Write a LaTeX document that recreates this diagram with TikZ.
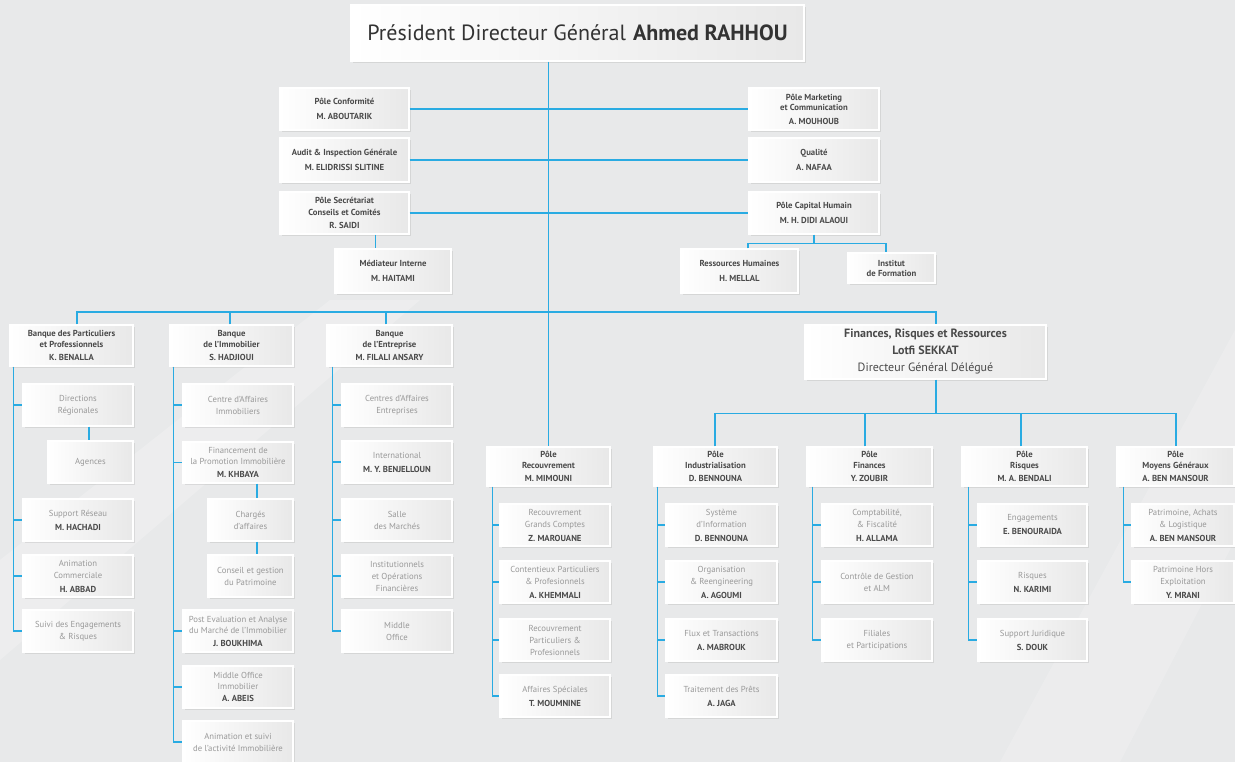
\documentclass[tikz,border=0pt]{standalone}
\usepackage{fontspec}
\setmainfont{PT Sans}
\usetikzlibrary{shadows}
\definecolor{bgc}{HTML}{E8E9EA}
\definecolor{ln}{HTML}{29ABE2}
\definecolor{dk}{HTML}{4A4A4A}
\definecolor{lt}{HTML}{999999}
\definecolor{tt}{HTML}{333333}
\newcommand\nm[1]{{\color{dk}\bfseries #1}}
\begin{document}
\begin{tikzpicture}[x=1pt,y=-1pt,
 box/.style={draw=white, line width=1.2pt, left color=white, right color=black!9,
   drop shadow={shadow xshift=1.5pt, shadow yshift=-1.8pt, opacity=.18}, inner sep=0pt, align=center},
 hd/.style={box, text=dk, font=\bfseries\fontsize{8.7}{11.5}\selectfont, minimum height=42pt},
 pole/.style={box, text=dk, font=\bfseries\fontsize{8.7}{10.5}\selectfont, minimum height=41pt},
 sub/.style={box, text=lt, font=\fontsize{8.7}{12}\selectfont, minimum height=42pt, minimum width=110pt},
 subn/.style={sub, minimum width=85pt},
 conn/.style={draw=ln, line width=1.1pt}]
\useasboundingbox (0,0) rectangle (1235,762);
\fill[bgc] (0,0) rectangle (1235,762);
\fill[white, opacity=.22] (0,560) -- (330,300) -- (420,300) -- (0,660) -- cycle;
\fill[white, opacity=.18] (1235,330) -- (1000,762) -- (1120,762) -- (1235,540) -- cycle;

% top
\node[box, minimum width=453pt, minimum height=56pt, text=tt, font=\fontsize{22}{26}\selectfont] (top) at (577.5,33) {Président Directeur Général\hspace{7pt}\textbf{Ahmed RAHHOU}};

% staff left
\node[hd, minimum width=129pt] (conf) at (344.5,109) {Pôle Conformité\\[3pt]M. ABOUTARIK};
\node[hd, minimum width=129pt, minimum height=44pt] (audit) at (344.5,160) {Audit \& Inspection Générale\\[3pt]M. ELIDRISSI SLITINE};
\node[hd, minimum width=129pt] (secr) at (344.5,213) {Pôle Secrétariat\\Conseils et Comités\\[2pt]R. SAIDI};
\node[hd, minimum width=116pt, minimum height=44pt] (med) at (393,271) {Médiateur Interne\\[3pt]M. HAITAMI};
% staff right
\node[hd, minimum width=130pt, font=\bfseries\fontsize{8.7}{10.5}\selectfont] (mkt) at (814,109) {Pôle Marketing\\et Communication\\[3pt]A. MOUHOUB};
\node[hd, minimum width=130pt, minimum height=44pt] (qual) at (814,160) {Qualité\\[3pt]A. NAFAA};
\node[hd, minimum width=130pt] (caph) at (814,213) {Pôle Capital Humain\\[3pt]M. H. DIDI ALAOUI};
\node[hd, minimum width=117pt, minimum height=44pt] (rh) at (739.5,271) {Ressources Humaines\\[3pt]H. MELLAL};
\node[hd, minimum width=87pt, minimum height=30pt, font=\bfseries\fontsize{8.7}{10}\selectfont] (inst) at (891.5,268) {Institut\\de Formation};

% row 2
\node[pole, minimum width=123pt] (bp) at (71.5,345.5) {Banque des Particuliers\\et Professionnels\\[3pt]K. BENALLA};
\node[pole, minimum width=123pt] (bi) at (231.5,345.5) {Banque\\de l’Immobilier\\[3pt]S. HADJIOUI};
\node[pole, minimum width=125pt] (be) at (389.5,345.5) {Banque\\de l’Entreprise\\[3pt]M. FILALI ANSARY};
\node[box, minimum width=241pt, minimum height=54pt, text=dk, font=\fontsize{12}{17}\selectfont] (frr) at (925.5,352) {\textbf{Finances, Risques et Ressources}\\\textbf{Lotfi SEKKAT}\\Directeur Général Délégué};
\node[pole, minimum width=123pt, minimum height=39pt] (pr) at (548.5,466.5) {Pôle\\Recouvrement\\[3pt]M. MIMOUNI};
\node[pole, minimum width=123pt, minimum height=39pt] (pi) at (715.5,466.5) {Pôle\\Industrialisation\\[3pt]D. BENNOUNA};
\node[pole, minimum width=125pt, minimum height=39pt] (pf) at (869.5,466.5) {Pôle\\Finances\\[3pt]Y. ZOUBIR};
\node[pole, minimum width=125pt, minimum height=39pt] (prk) at (1024.5,466.5) {Pôle\\Risques\\[3pt]M. A. BENDALI};
\node[pole, minimum width=117pt, minimum height=39pt] (pmg) at (1175.5,466.5) {Pôle\\Moyens Généraux\\[3pt]A. BEN MANSOUR};

% column bp
\node[sub] (dr) at (78,405) {Directions\\Régionales};
\node[subn] (ag) at (90.5,462) {Agences};
\node[sub] (sr) at (78,520) {Support Réseau\\[2pt]\nm{M. HACHADI}};
\node[sub] (ac) at (78,576) {Animation\\Commerciale\\[2pt]\nm{H. ABBAD}};
\node[sub] (se) at (78,631) {Suivi des Engagements\\\& Risques};
% column bi
\node[sub] (cai) at (238,405) {Centre d’Affaires\\Immobiliers};
\node[sub, minimum height=41pt, font=\fontsize{8.7}{10.5}\selectfont] (fpi) at (238,462.5) {Financement de\\la Promotion Immobilière\\[3pt]\nm{M. KHBAYA}};
\node[subn] (ca) at (250.5,520) {Chargés\\d’affaires};
\node[subn] (cgp) at (250.5,576) {Conseil et gestion\\du Patrimoine};
\node[sub, font=\fontsize{8.7}{11}\selectfont] (pea) at (238,631) {Post Evaluation et Analyse\\du Marché de l’Immobilier\\[2pt]\nm{J. BOUKHIMA}};
\node[sub, font=\fontsize{8.7}{11}\selectfont] (moi) at (238,687) {Middle Office\\Immobilier\\[1pt]\nm{A. ABEIS}};
\node[sub] (aas) at (238,742) {Animation et suivi\\de l’activité Immobilière};
% column be
\node[sub] (cae) at (397,405) {Centres d’Affaires\\Entreprises};
\node[sub] (int) at (397,462) {International\\[2pt]\nm{M. Y. BENJELLOUN}};
\node[sub] (sdm) at (397,520) {Salle\\des Marchés};
\node[sub] (iof) at (397,576) {Institutionnels\\et Opérations\\Financières};
\node[sub] (mo) at (397,631) {Middle\\Office};
% column pr
\node[sub] (rgc) at (555,525) {Recouvrement\\Grands Comptes\\[2pt]\nm{Z. MAROUANE}};
\node[sub] (cpp) at (555,582) {Contentieux Particuliers\\\& Profesionnels\\[2pt]\nm{A. KHEMMALI}};
\node[sub] (rpp) at (555,640) {Recouvrement\\Particuliers \&\\Profesionnels};
\node[sub] (afs) at (555,696) {Affaires Spéciales\\[2pt]\nm{T. MOUMNINE}};
% column pi
\node[sub, minimum width=111pt] (si) at (721.5,525) {Système\\d’Information\\[2pt]\nm{D. BENNOUNA}};
\node[sub, minimum width=111pt] (org) at (721.5,582) {Organisation\\\& Reengineering\\[2pt]\nm{A. AGOUMI}};
\node[sub, minimum width=111pt] (flx) at (721.5,640) {Flux et Transactions\\[2pt]\nm{A. MABROUK}};
\node[sub, minimum width=111pt] (tp) at (721.5,696) {Traitement des Prêts\\[2pt]\nm{A. JAGA}};
% column pf
\node[sub] (cf) at (877,525) {Comptabilité,\\\& Fiscalité\\[2pt]\nm{H. ALLAMA}};
\node[sub] (cg) at (877,582) {Contrôle de Gestion\\et ALM};
\node[sub] (fp) at (877,640) {Filiales\\et Participations};
% column prk
\node[sub, minimum width=109pt] (eng) at (1032.5,525) {Engagements\\[2pt]\nm{E. BENOURAIDA}};
\node[sub, minimum width=109pt] (rsq) at (1032.5,582) {Risques\\[2pt]\nm{N. KARIMI}};
\node[sub, minimum width=109pt] (sj) at (1032.5,640) {Support Juridique\\[2pt]\nm{S. DOUK}};
% column pmg
\node[sub, minimum width=102pt] (pal) at (1183,525) {Patrimoine, Achats\\\& Logistique\\[2pt]\nm{A. BEN MANSOUR}};
\node[sub, minimum width=102pt] (phe) at (1183,582) {Patrimoine Hors\\Exploitation\\[2pt]\nm{Y. MRANI}};

% ---------- connectors ----------
\coordinate (bus) at (0,312);
\draw[conn] (top.south -| pr.north) -- (pr.north);
\draw[conn] (conf.east) -- (mkt.west);
\draw[conn] (audit.east) -- (qual.west);
\draw[conn] (secr.east) -- (caph.west);
\draw[conn] ([xshift=31pt]secr.south) -- ([xshift=31pt]secr.south |- med.north);
\draw[conn] (caph.south) -- ++(0,9) coordinate (hb);
\draw[conn] ([xshift=8.5pt]rh.north) |- (hb) -| ([xshift=-5.5pt]inst.north);
% main bus
\draw[conn] ([xshift=5.5pt]bp.north) |- (bus -| pr.north) -| ([xshift=10.5pt]frr.north);
\draw[conn] ([xshift=-1.5pt]bi.north) -- ([xshift=-1.5pt]bi.north |- bus);
\draw[conn] ([xshift=-3.5pt]be.north) -- ([xshift=-3.5pt]be.north |- bus);
% FRR bus
\draw[conn] ([xshift=10.5pt]frr.south) -- ++(0,34) coordinate (fb);
\draw[conn] ([xshift=-0.5pt]pi.north) |- (fb) -| ([xshift=0.5pt]pmg.north);
\draw[conn] ([xshift=-4.5pt]pf.north) -- ([xshift=-4.5pt]pf.north |- fb);
\draw[conn] ([xshift=-3.5pt]prk.north) -- ([xshift=-3.5pt]prk.north |- fb);
% column spines
\coordinate (s1) at ([xshift=4pt]bp.south west);
\draw[conn] (s1) |- (se.west);
\foreach \n in {dr,sr,ac} \draw[conn] (s1 |- \n.west) -- (\n.west);
\draw[conn] ([xshift=11pt]dr.south) -- ([xshift=11pt]dr.south |- ag.north);
\coordinate (s2) at ([xshift=4pt]bi.south west);
\draw[conn] (s2) |- (aas.west);
\foreach \n in {cai,fpi,pea,moi} \draw[conn] (s2 |- \n.west) -- (\n.west);
\draw[conn] ([xshift=19pt]fpi.south) -- ([xshift=19pt]fpi.south |- ca.north);
\draw[conn] ([xshift=6.5pt]ca.south) -- ([xshift=6.5pt]ca.south |- cgp.north);
\coordinate (s3) at ([xshift=6pt]be.south west);
\draw[conn] (s3) |- (mo.west);
\foreach \n in {cae,int,sdm,iof} \draw[conn] (s3 |- \n.west) -- (\n.west);
\coordinate (s4) at ([xshift=6pt]pr.south west);
\draw[conn] (s4) |- (afs.west);
\foreach \n in {rgc,cpp,rpp} \draw[conn] (s4 |- \n.west) -- (\n.west);
\coordinate (s5) at ([xshift=4pt]pi.south west);
\draw[conn] (s5) |- (tp.west);
\foreach \n in {si,org,flx} \draw[conn] (s5 |- \n.west) -- (\n.west);
\coordinate (s6) at ([xshift=6pt]pf.south west);
\draw[conn] (s6) |- (fp.west);
\foreach \n in {cf,cg} \draw[conn] (s6 |- \n.west) -- (\n.west);
\coordinate (s7) at ([xshift=7pt]prk.south west);
\draw[conn] (s7) |- (sj.west);
\foreach \n in {eng,rsq} \draw[conn] (s7 |- \n.west) -- (\n.west);
\coordinate (s8) at ([xshift=7pt]pmg.south west);
\draw[conn] (s8) |- (phe.west);
\draw[conn] (s8 |- pal.west) -- (pal.west);
\end{tikzpicture}
\end{document}
